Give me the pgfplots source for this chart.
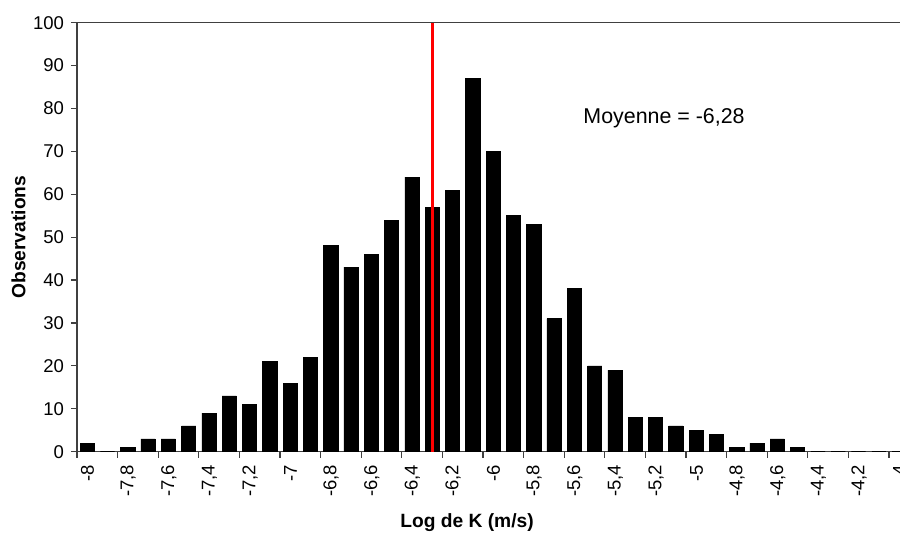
\documentclass[border=0pt]{standalone}
\usepackage{pgfplots}
\pgfplotsset{compat=1.18}
\usepackage{fontspec}
\setmainfont{Liberation Sans}
\begin{document}
\begin{tikzpicture}
\begin{axis}[
  name=ax,
  scale only axis,
  width=416.15pt, height=214.5pt,
  xmin=-8.05, xmax=-3.95,
  ymin=0, ymax=100,
  axis line style={black!75, line width=0.6pt},
  tick style={black!75, line width=0.6pt},
  tick align=outside,
  tick pos=left,
  major tick length=3pt,
  xtick={-8.05,-7.85,-7.65,-7.45,-7.25,-7.05,-6.85,-6.65,-6.45,-6.25,-6.05,-5.85,-5.65,-5.45,-5.25,-5.05,-4.85,-4.65,-4.45,-4.25,-4.05},
  xticklabels={-8,{-7,8},{-7,6},{-7,4},{-7,2},-7,{-6,8},{-6,6},{-6,4},{-6,2},-6,{-5,8},{-5,6},{-5,4},{-5,2},-5,{-4,8},{-4,6},{-4,4},{-4,2},-4},
  x tick label style={xshift=5.3pt, rotate=90, anchor=east, font=\fontsize{9.25}{11}\selectfont},
  ytick={0,10,20,30,40,50,60,70,80,90,100},
  y tick label style={font=\fontsize{9.25}{11}\selectfont},
  /pgf/number format/assume math mode=true,
  xlabel={Log de K (m/s)},
  ylabel={Observations},
  xlabel style={at={(axis description cs:0.4686,-0.1662)}, anchor=center, font=\bfseries\fontsize{9.6}{11}\selectfont},
  ylabel style={at={(axis description cs:-0.0703,0.5)}, anchor=center, font=\bfseries\fontsize{9.6}{11}\selectfont},
]
\addplot[ybar, bar width=0.07, fill=black, draw=black, line width=0.3pt] coordinates {
(-8.0,2) (-7.9,0) (-7.8,1) (-7.7,3) (-7.6,3) (-7.5,6) (-7.4,9) (-7.3,13) (-7.2,11) (-7.1,21)
(-7.0,16) (-6.9,22) (-6.8,48) (-6.7,43) (-6.6,46) (-6.5,54) (-6.4,64) (-6.3,57) (-6.2,61) (-6.1,87)
(-6.0,70) (-5.9,55) (-5.8,53) (-5.7,31) (-5.6,38) (-5.5,20) (-5.4,19) (-5.3,8) (-5.2,8) (-5.1,6)
(-5.0,5) (-4.9,4) (-4.8,1) (-4.7,2) (-4.6,3) (-4.5,1) (-4.4,0) (-4.3,0) (-4.2,0) (-4.1,0) (-4.0,0)
};
\addplot[red, line width=1.5pt] coordinates {(-6.3,0) (-6.3,100)};
\node[anchor=west, inner sep=0pt, font=\fontsize{10.7}{13}\selectfont] at (axis cs:-5.557,77.7) {Moyenne = -6,28};
\end{axis}
\pgfresetboundingbox
\path[use as bounding box] ([shift={(-38.5pt,-40.65pt)}]ax.south west) rectangle ([shift={(411.5pt,11.35pt)}]ax.north west);
\end{tikzpicture}
\end{document}
